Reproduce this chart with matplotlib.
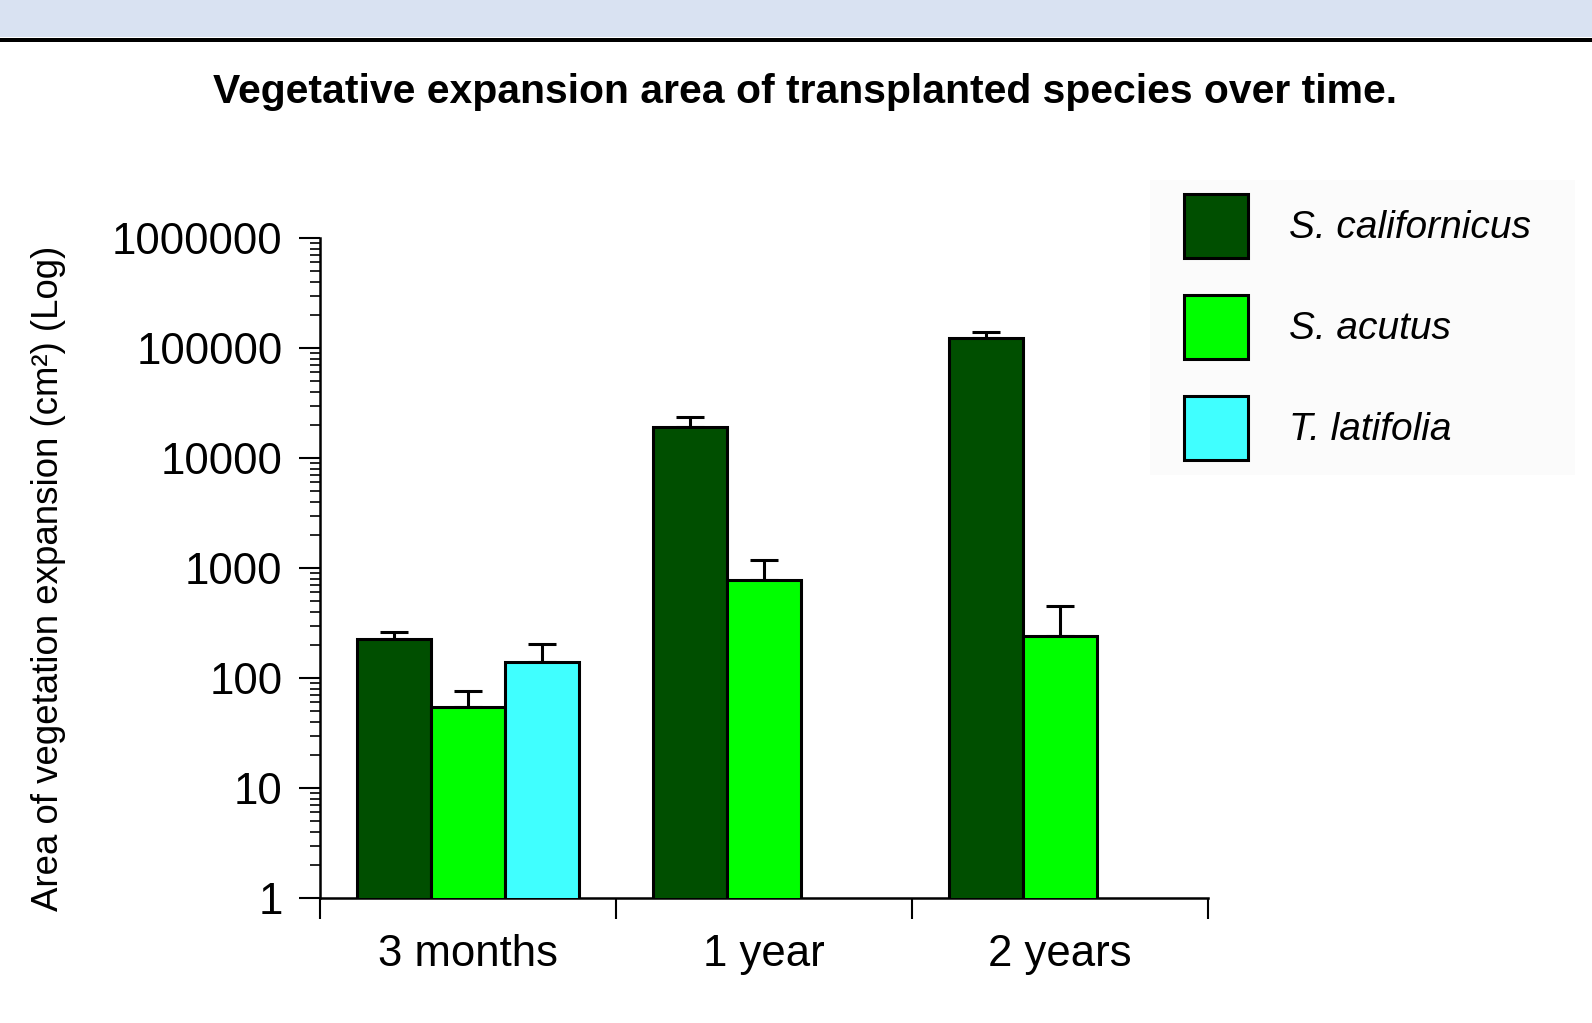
import numpy as np
import matplotlib
matplotlib.use("Agg")
import matplotlib.pyplot as plt
from matplotlib.patches import Rectangle
from matplotlib.ticker import FixedLocator, LogLocator, NullFormatter

plt.rcParams["font.family"] = ["Liberation Sans", "DejaVu Sans"]

# Mean expansion area (cm^2) and upper error per species and time point
periods = ["3 months", "1 year", "2 years"]
species = ["S. californicus", "S. acutus", "T. latifolia"]
colors = ["#004F00", "#00FF00", "#40FFFF"]

s_californicus = [227, 18960, 122500]
s_californicus_err = [36, 4840, 16200]
s_acutus = [55, 776, 243]
s_acutus_err = [21, 404, 207]
t_latifolia = [140]
t_latifolia_err = [64]

ytick_values = [1, 10, 100, 1000, 10000, 100000, 1000000]
ytick_labels = ["1", "10", "100", "1000", "10000", "100000", "1000000"]

W, H = 1592, 1023
fig = plt.figure(figsize=(W / 100, H / 100), dpi=100)


def fx(px):
    return px / W


def fy(py):
    return 1 - py / H


# header band
fig.patches.append(Rectangle((0, fy(37)), 1, 1 - fy(37), transform=fig.transFigure,
                             facecolor="#D9E2F2", edgecolor="none", zorder=-2))
fig.patches.append(Rectangle((0, fy(42)), 1, fy(37.5) - fy(42), transform=fig.transFigure,
                             facecolor="black", edgecolor="none", zorder=-1))

fig.text(fx(805), fy(92), "Vegetative expansion area of transplanted species over time.",
         ha="center", va="center", fontsize=29.4, fontweight="bold")

ax = fig.add_axes([fx(320), fy(898), fx(1208) - fx(320), fy(238) - fy(898)])
ax.patch.set_visible(False)

width = 0.25
series = [(s_californicus, s_californicus_err), (s_acutus, s_acutus_err), (t_latifolia, t_latifolia_err)]
handles = []
for j, (vals, errs) in enumerate(series):
    x = np.arange(len(vals)) + 0.5 + (j - 1) * width
    b = ax.bar(x, vals, width=width, color=colors[j], edgecolor="black",
               linewidth=2.2, zorder=3)
    ax.errorbar(x, vals, yerr=[np.zeros(len(errs)), errs], fmt="none",
                ecolor="black", elinewidth=2.2, capsize=10, capthick=2.2, zorder=2)
    handles.append(b)

ax.set_yscale("log")
ax.set_ylim(1, 1e6)
ax.set_xlim(0, 3)

ax.yaxis.set_major_locator(FixedLocator(ytick_values))
ax.set_yticklabels(ytick_labels)
ax.yaxis.set_minor_locator(LogLocator(base=10, subs=np.arange(2, 10)))
ax.yaxis.set_minor_formatter(NullFormatter())
ax.tick_params(axis="y", which="major", length=15, width=1.5, pad=12, labelsize=31.5)
ax.tick_params(axis="y", which="minor", length=7, width=1.2)

ax.set_xticks([0, 1, 2, 3])
ax.set_xticklabels([])
ax.set_xticks([0.5, 1.5, 2.5], minor=True)
ax.set_xticklabels(periods, minor=True)
ax.tick_params(axis="x", which="major", length=15, width=1.5)
ax.tick_params(axis="x", which="minor", length=0, pad=26, labelsize=31.5)

for side in ["top", "right"]:
    ax.spines[side].set_visible(False)
for side in ["left", "bottom"]:
    ax.spines[side].set_linewidth(1.8)

fig.text(fx(49), fy(578), "Area of vegetation expansion (cm²) (Log)", rotation=90,
         ha="center", va="center", fontsize=26.4)

# legend panel
fig.patches.append(Rectangle((fx(1150), fy(475)), fx(1575) - fx(1150), fy(180) - fy(475),
                             transform=fig.transFigure, facecolor="#FBFBFB",
                             edgecolor="none", zorder=-1))
leg = fig.legend(handles, species, loc="upper left", bbox_to_anchor=(fx(1184), fy(194)),
                 bbox_transform=fig.transFigure, frameon=False, borderpad=0,
                 borderaxespad=0, fontsize=28, handlelength=1.65, handleheight=2.14,
                 labelspacing=0.96, handletextpad=1.05)
for t in leg.get_texts():
    t.set_fontstyle("italic")

fig.savefig("out.png", dpi=100)
